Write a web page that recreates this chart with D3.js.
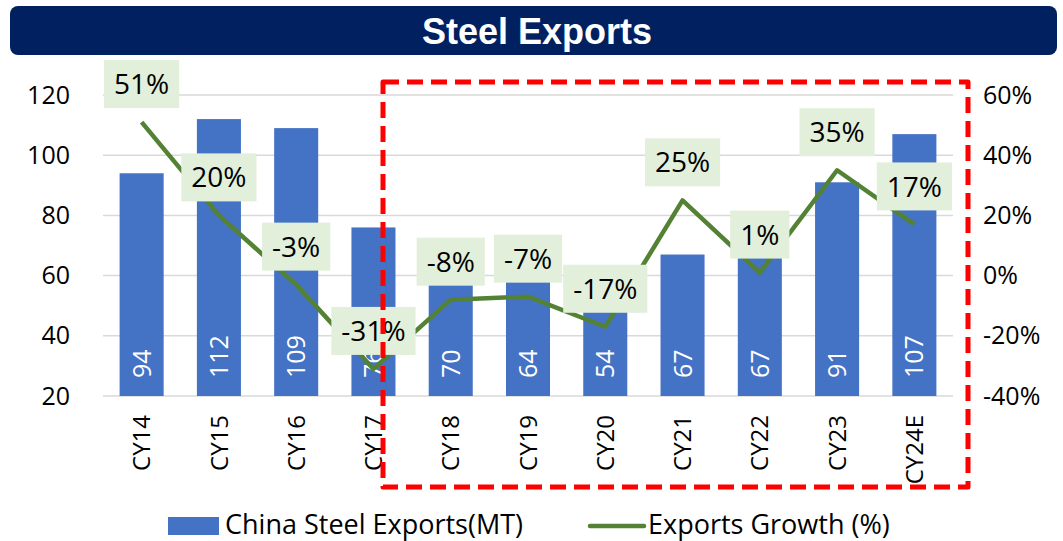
<!DOCTYPE html>
<html>
<head>
<meta charset="utf-8">
<script src="https://cdn.jsdelivr.net/npm/d3@7"></script>
<style>
  html, body { margin: 0; padding: 0; background: #fff; }
  svg { display: block; }
</style>
</head>
<body>
<svg id="chart" width="1063" height="541"></svg>
<script>
const categories = ["CY14", "CY15", "CY16", "CY17", "CY18", "CY19", "CY20", "CY21", "CY22", "CY23", "CY24E"];
const exportsMT = [94, 112, 109, 76, 70, 64, 54, 67, 67, 91, 107];
const growthPct = [51, 20, -3, -31, -8, -7, -17, 25, 1, 35, 17];
const leftTicks = [20, 40, 60, 80, 100, 120];
const rightTicks = [-40, -20, 0, 20, 40, 60];
const titleText = "Steel Exports";
const seriesNames = ["China Steel Exports(MT)", "Exports Growth (%)"];

const W = 1063, H = 541;
const plot = { left: 103, right: 953, top: 95, bottom: 396 };
const FONT = "'Open Sans', sans-serif";

const svg = d3.select("#chart");

// Title banner
svg.append("rect")
  .attr("x", 10).attr("y", 6).attr("width", 1047).attr("height", 49)
  .attr("rx", 8).attr("ry", 8)
  .attr("fill", "#002060");
svg.append("text")
  .attr("x", 537).attr("y", 44)
  .attr("text-anchor", "middle")
  .attr("font-family", "'Liberation Sans', Arial, sans-serif")
  .attr("font-weight", "bold")
  .attr("font-size", 36)
  .attr("fill", "#fff")
  .text(titleText);

// Scales
const x = d3.scaleBand().domain(categories)
  .range([plot.left, plot.right]).paddingInner(0.43).paddingOuter(0.215);
const yL = d3.scaleLinear().domain([20, 120]).range([plot.bottom, plot.top]);
const yR = d3.scaleLinear().domain([-40, 60]).range([plot.bottom, plot.top]);

// Gridlines
svg.append("g").selectAll("line").data(leftTicks).join("line")
  .attr("x1", plot.left).attr("x2", plot.right)
  .attr("y1", d => yL(d)).attr("y2", d => yL(d))
  .attr("stroke", "#d9d9d9").attr("stroke-width", 1.5);

// Left axis
const gL = svg.append("g").attr("transform", `translate(${plot.left - 33},0)`)
  .call(d3.axisLeft(yL).tickValues(leftTicks).tickSize(0).tickPadding(0));
gL.select(".domain").remove();
gL.selectAll("text").attr("font-family", FONT).attr("font-size", 25).attr("fill", "#000");

// Right axis
const gR = svg.append("g").attr("transform", `translate(${plot.right + 30},0)`)
  .call(d3.axisRight(yR).tickValues(rightTicks).tickSize(0).tickPadding(0)
    .tickFormat(d => d + "%"));
gR.select(".domain").remove();
gR.selectAll("text").attr("font-family", FONT).attr("font-size", 25).attr("fill", "#000");

// X axis labels (rotated)
svg.append("g").selectAll("text").data(categories).join("text")
  .attr("transform", d => `translate(${x(d) + x.bandwidth() / 2},415) rotate(-90)`)
  .attr("text-anchor", "end")
  .attr("dy", "0.36em")
  .attr("font-family", FONT).attr("font-size", 24).attr("fill", "#000")
  .text(d => d);

// Bars
svg.append("g").selectAll("rect").data(categories).join("rect")
  .attr("x", d => x(d))
  .attr("width", x.bandwidth())
  .attr("y", (d, i) => yL(exportsMT[i]))
  .attr("height", (d, i) => yL(20) - yL(exportsMT[i]))
  .attr("fill", "#4472c4");

// Bar value labels (rotated, white)
svg.append("g").selectAll("text").data(categories).join("text")
  .attr("transform", d => `translate(${x(d) + x.bandwidth() / 2},378) rotate(-90)`)
  .attr("text-anchor", "start")
  .attr("dy", "0.36em")
  .attr("font-family", FONT).attr("font-size", 25).attr("fill", "#fff")
  .text((d, i) => exportsMT[i]);

// Growth line
const pts = categories.map((c, i) => [x(c) + x.bandwidth() / 2, yR(growthPct[i])]);
svg.append("path")
  .attr("d", d3.line()(pts))
  .attr("fill", "none")
  .attr("stroke", "#548235")
  .attr("stroke-width", 4.5)
  .attr("stroke-linejoin", "round");

// Growth data labels with boxes
const lblG = svg.append("g");
categories.forEach((c, i) => {
  const cx = pts[i][0], cy = pts[i][1] - 38;
  const g = lblG.append("g");
  const rect = g.append("rect").attr("fill", "#e2efda");
  const t = g.append("text")
    .attr("x", cx).attr("y", cy)
    .attr("text-anchor", "middle")
    .attr("dy", "0.36em")
    .attr("font-family", FONT).attr("font-size", 28).attr("fill", "#000")
    .text(growthPct[i] + "%");
  const w = t.node().getComputedTextLength() + 20;
  rect.attr("x", cx - w / 2).attr("y", cy - 24).attr("width", w).attr("height", 48);
});

// Red dashed highlight box
svg.append("rect")
  .attr("x", 383).attr("y", 82).attr("width", 585).attr("height", 405)
  .attr("fill", "none")
  .attr("stroke", "#ff0000")
  .attr("stroke-width", 5)
  .attr("stroke-dasharray", "16,8")
  .attr("stroke-linejoin", "round");

// Legend
const leg = svg.append("g");
leg.append("rect").attr("x", 168).attr("y", 517).attr("width", 51).attr("height", 18).attr("fill", "#4472c4");
leg.append("text").attr("x", 225).attr("y", 534)
  .attr("font-family", FONT).attr("font-size", 27).attr("fill", "#000")
  .text(seriesNames[0]);
leg.append("line").attr("x1", 590).attr("x2", 644).attr("y1", 526).attr("y2", 526)
  .attr("stroke", "#548235").attr("stroke-width", 4.5).attr("stroke-linecap", "round");
leg.append("text").attr("x", 648).attr("y", 534)
  .attr("font-family", FONT).attr("font-size", 27).attr("fill", "#000")
  .text(seriesNames[1]);
</script>
</body>
</html>
